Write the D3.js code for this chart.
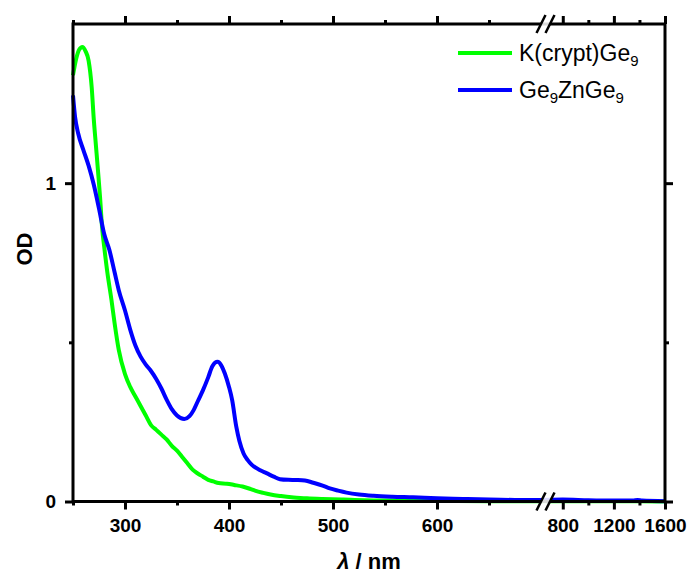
<!DOCTYPE html>
<html><head><meta charset="utf-8">
<script src="https://cdn.jsdelivr.net/npm/d3@7"></script>
<style>
body{margin:0;background:#fff;}
svg{display:block;font-family:"Liberation Sans",Arial,sans-serif;}
</style></head>
<body><svg id="c" width="687" height="577"></svg>
<script>
// ---- data ----
const greenLambda = [250,253,256,259,262,265,268,270,272,274,276,278,280,283,287,290,294,300,305,310,315,320,325,330,335,340,345,350,355,360,365,370,375,380,385,390,398,405,413,420,425,433,440,450,460,475,490,510,530,560,600,650,700,800,1000,1200,1400,1600];
const greenOD =     [1.339,1.39,1.42,1.428,1.415,1.385,1.30,1.20,1.12,1.04,0.957,0.86,0.80,0.72,0.633,0.56,0.476,0.40,0.36,0.33,0.30,0.27,0.24,0.225,0.21,0.195,0.175,0.16,0.14,0.12,0.10,0.088,0.078,0.068,0.063,0.058,0.056,0.052,0.047,0.040,0.034,0.027,0.022,0.017,0.013,0.010,0.008,0.006,0.004,0.003,0.002,0.001,0.001,0.001,0.001,0.001,0.001,0.0];
const blueLambda = [250,252,255,260,265,270,275,280,285,290,294,300,305,310,315,320,325,330,335,340,345,350,357,362,366,370,375,380,384,389,393,396,400,403,407,410,414,418,422,430,436,443,449,457,465,473,481,490,497,505,513,525,539,557,577,600,625,650,675,700,800,1000,1200,1350,1385,1420,1600];
const blueOD =     [1.276,1.208,1.156,1.104,1.055,0.995,0.92,0.84,0.79,0.72,0.664,0.60,0.54,0.49,0.455,0.43,0.41,0.385,0.355,0.32,0.29,0.27,0.259,0.268,0.287,0.315,0.35,0.39,0.425,0.439,0.425,0.402,0.36,0.319,0.235,0.19,0.151,0.13,0.115,0.098,0.089,0.078,0.070,0.068,0.0675,0.066,0.059,0.050,0.041,0.034,0.028,0.022,0.018,0.015,0.013,0.010,0.008,0.006,0.005,0.005,0.006,0.004,0.003,0.003,0.005,0.003,0.001];
const seriesNames = ["K(crypt)Ge", "Ge"];
const xMajorLeft = [300,400,500,600];
const xMinorLeft = [250,350,450,550,650];
const xMajorRight = [800,1200,1600];
const xMinorRight = [1000,1400];
const yMajor = [0,1];
const yMinor = [0.5];

// ---- scales ----
const svg = d3.select("#c");
const L=73, R=665, T=24, B=501.5;
const xL = d3.scaleLinear().domain([250,700]).range([L,541]);
const xR = d3.scaleLinear().domain([700,1600]).range([550,R]);
const X = v => v<=700 ? xL(v) : xR(v);
const y = d3.scaleLinear().domain([0,1.5]).range([B,T]);

const line = d3.line().x(d=>X(d[0])).y(d=>y(d[1])).curve(d3.curveMonotoneX);
const g = svg.append("g");
g.append("path").datum(d3.zip(greenLambda,greenOD)).attr("d",line)
  .attr("fill","none").attr("stroke","#00ff00").attr("stroke-width",4).attr("stroke-linejoin","round");
g.append("path").datum(d3.zip(blueLambda,blueOD)).attr("d",line)
  .attr("fill","none").attr("stroke","#0000ff").attr("stroke-width",4).attr("stroke-linejoin","round");

// ---- axes ----
function styleAx(sel){
  sel.select(".domain").remove();
  sel.selectAll(".tick line").attr("stroke","#000").attr("stroke-width",3);
  sel.selectAll(".tick text").attr("fill","#000").style("font-size","19px").style("font-weight","bold")
     .style("font-family","'Liberation Sans',Arial,sans-serif");
}
function addAx(axis, tx, ty){
  const s = svg.append("g").attr("transform",`translate(${tx},${ty})`).call(axis);
  styleAx(s); return s;
}
// bottom
addAx(d3.axisBottom(xL).tickValues(xMajorLeft).tickSize(8).tickSizeOuter(0).tickPadding(9).tickFormat(d3.format("d")),0,B);
addAx(d3.axisBottom(xL).tickValues(xMinorLeft).tickSize(4).tickSizeOuter(0).tickFormat(""),0,B);
addAx(d3.axisBottom(xR).tickValues(xMajorRight).tickSize(8).tickSizeOuter(0).tickPadding(9).tickFormat(d3.format("d")),0,B);
addAx(d3.axisBottom(xR).tickValues(xMinorRight).tickSize(4).tickSizeOuter(0).tickFormat(""),0,B);
// top
addAx(d3.axisTop(xL).tickValues(xMajorLeft).tickSize(8).tickSizeOuter(0).tickFormat(""),0,T);
addAx(d3.axisTop(xL).tickValues(xMinorLeft).tickSize(4).tickSizeOuter(0).tickFormat(""),0,T);
addAx(d3.axisTop(xR).tickValues(xMajorRight).tickSize(8).tickSizeOuter(0).tickFormat(""),0,T);
addAx(d3.axisTop(xR).tickValues(xMinorRight).tickSize(4).tickSizeOuter(0).tickFormat(""),0,T);
// left / right
addAx(d3.axisLeft(y).tickValues(yMajor).tickSize(8).tickSizeOuter(0).tickPadding(9).tickFormat(d3.format("d")),L,0);
addAx(d3.axisLeft(y).tickValues(yMinor).tickSize(4).tickSizeOuter(0).tickFormat(""),L,0);
addAx(d3.axisRight(y).tickValues(yMajor).tickSize(8).tickSizeOuter(0).tickFormat(""),R,0);
addAx(d3.axisRight(y).tickValues(yMinor).tickSize(4).tickSizeOuter(0).tickFormat(""),R,0);

// frame
svg.append("rect").attr("x",L).attr("y",T).attr("width",R-L).attr("height",B-T)
  .attr("fill","none").attr("stroke","#000").attr("stroke-width",3);

// axis break marks
[B,T].forEach(yy=>{
  const xa = xL(700), xb = xR(700);
  svg.append("path").attr("d",`M${xa-4.5},${yy+9}L${xa+4.5},${yy-9}L${xb+4.5},${yy-9}L${xb-4.5},${yy+9}Z`)
    .attr("fill","#fff").attr("stroke","none").attr("opacity",0.85);
  [xa,xb].forEach(xx=>{
    svg.append("line").attr("x1",xx-4.5).attr("y1",yy+9).attr("x2",xx+4.5).attr("y2",yy-9)
      .attr("stroke","#000").attr("stroke-width",2.5);
  });
});

// axis titles
svg.append("text").attr("transform","translate(32,249) rotate(-90)").attr("text-anchor","middle")
  .style("font-size","22px").style("font-weight","bold").text("OD");
const xt = svg.append("text").attr("x",369).attr("y",569).attr("text-anchor","middle")
  .style("font-size","22px").style("font-weight","bold");
xt.append("tspan").style("font-style","italic").text("λ");
xt.append("tspan").text(" / nm");

// legend
const lg = svg.append("g");
const items = [{c:"#00ff00", y:53, parts:[[seriesNames[0],0],["9",1]]},
               {c:"#0000ff", y:90, parts:[[seriesNames[1],0],["9",1],["ZnGe",0],["9",1]]}];
items.forEach(it=>{
  lg.append("line").attr("x1",458).attr("x2",512).attr("y1",it.y).attr("y2",it.y)
    .attr("stroke",it.c).attr("stroke-width",4);
  const t = lg.append("text").attr("x",519).attr("y",it.y+8).style("font-size","23px");
  it.parts.forEach(p=>{
    const s = t.append("tspan").text(p[0]);
    if(p[1]){ s.style("font-size","15px").attr("dy",5); }
    else if (t.selectAll("tspan").size()>1) { s.attr("dy",-5); }
  });
});
</script></body></html>
